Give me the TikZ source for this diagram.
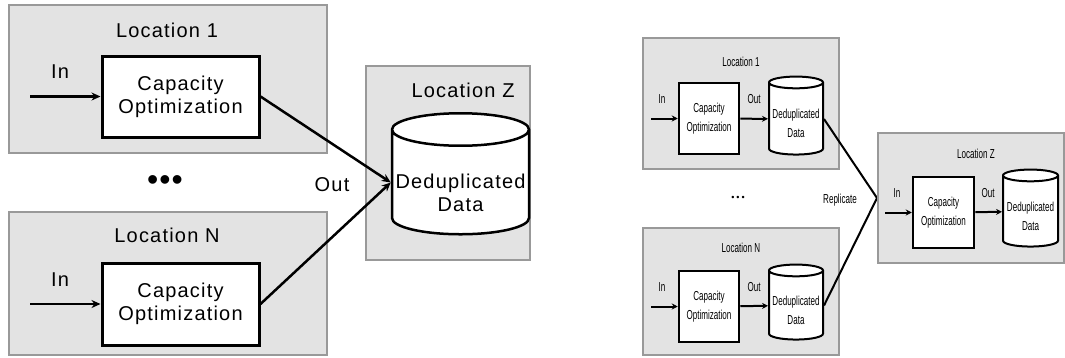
\documentclass[tikz,border=0pt]{standalone}
\usepackage{fontspec}
\setmainfont{Liberation Sans}[LetterSpace=6]
\newfontfamily\tinyfont{Liberation Sans}[FakeStretch=0.62]
\usetikzlibrary{positioning,shapes.geometric,arrows.meta}

\tikzset{
  site/.style={draw=gray!80,fill=gray!22,line width=1.5pt,inner sep=0pt},
  capbox/.style={draw,fill=white,line width=3pt,align=center,inner sep=0pt},
  store/.style={cylinder,shape border rotate=90,draw,fill=white,line width=2.5pt,align=center,inner sep=0pt,aspect=0.25},
  flow/.style={line width=2.5pt,-{Stealth[length=9pt,width=8pt]}},
  big/.style={font=\fontsize{20}{23}\selectfont},
  small/.style={font=\tinyfont\fontsize{13}{19}\selectfont},
  smallsite/.style={site,line width=2pt},
  smallcap/.style={capbox,line width=2.5pt,small},
  smallstore/.style={store,line width=2pt,small},
  smallflow/.style={line width=2pt,-{Stealth[length=6pt,width=6pt]}}
}

\begin{document}
\begin{tikzpicture}[x=1pt,y=-1pt]
\useasboundingbox (0,0) rectangle (1065,357);

% left: every site sends to Z
\node[site,minimum width=318,minimum height=148] (loc1) at (168,79) {};
\node[big] (loc1title) at (167,30) {Location 1};
\node[capbox,big,minimum width=157,minimum height=81] (cap1) at (180.5,96.5) {Capacity\\Optimization};
\node[big] (in1) at (60,72) {In};
\coordinate (src1) at (30,96.5);
\draw[flow] (src1) -- (cap1);

\node[font=\fontsize{32}{34}\selectfont] (dots) at (165,183) {•\hspace{1pt}•\hspace{1pt}•};

\node[site,minimum width=318,minimum height=143] (locn) at (168,283.5) {};
\node[big] (locntitle) at (167,235) {Location N};
\node[capbox,big,minimum width=157,minimum height=82] (capn) at (180.5,304) {Capacity\\Optimization};
\node[big] (inn) at (60,280) {In};
\coordinate (srcn) at (30,304);
\draw[flow] (srcn) -- (capn);

\node[site,minimum width=164,minimum height=194] (locz) at (448,163) {};
\node[big] (locztitle) at (463,90) {Location Z};
\node[store,big,minimum width=137,minimum height=121] (dataz) at (460.5,182.5) {\mbox{}\\[12pt]Deduplicated\\Data};
\node[big] (out) at (332,185) {Out};
\draw[flow] (cap1.east) -- (dataz.west);
\draw[flow] (capn.east) -- (dataz.west);

% right: dedupe at each site, then replicate
\node[smallsite,minimum width=196,minimum height=131] (rloc1) at (741,103.5) {};
\node[small] (rloc1title) at (741,62) {Location 1};
\node[smallcap,minimum width=60,minimum height=71] (rcap1) at (709,118.5) {Capacity\\Optimization};
\node[smallstore,minimum width=54,minimum height=78] (rdata1) at (796,119) {\mbox{}\\Deduplicated\\Data};
\node[small] (rin1) at (662,99) {In};
\node[small] (rout1) at (754,99) {Out};
\coordinate (rsrc1) at (651,118.5);
\draw[smallflow] (rsrc1) -- (rcap1);
\draw[smallflow] (rcap1) -- (rdata1);

\node[font=\fontsize{9}{10}\selectfont] (rdots) at (738,198) {•\hspace{2pt}•\hspace{2pt}•};

\node[smallsite,minimum width=196,minimum height=127] (rlocn) at (741,291.5) {};
\node[small] (rlocntitle) at (741,248) {Location N};
\node[smallcap,minimum width=60,minimum height=71] (rcapn) at (709,306.5) {Capacity\\Optimization};
\node[smallstore,minimum width=54,minimum height=75] (rdatan) at (796,305.5) {\mbox{}\\Deduplicated\\Data};
\node[small] (rinn) at (662,287) {In};
\node[small] (routn) at (754,287) {Out};
\coordinate (rsrcn) at (651,306.5);
\draw[smallflow] (rsrcn) -- (rcapn);
\draw[smallflow] (rcapn) -- (rdatan);

\node[small] (replicate) at (840,200) {Replicate};
\coordinate (rjoin) at (877,198);
\draw[line width=2pt] (rdata1.east) -- (rjoin) -- (rdatan.east);

\node[smallsite,minimum width=186,minimum height=130] (rlocz) at (971,198) {};
\node[small] (rlocztitle) at (976,154) {Location Z};
\node[smallcap,minimum width=61,minimum height=71] (rcapz) at (943.5,212.5) {Capacity\\Optimization};
\node[smallstore,minimum width=55,minimum height=77] (rdataz) at (1030.5,211.5) {\mbox{}\\Deduplicated\\Data};
\node[small] (rinz) at (897,193) {In};
\node[small] (routz) at (988,193) {Out};
\coordinate (rsrcz) at (885,212.5);
\draw[smallflow] (rsrcz) -- (rcapz);
\draw[smallflow] (rcapz) -- (rdataz);
\end{tikzpicture}
\end{document}
